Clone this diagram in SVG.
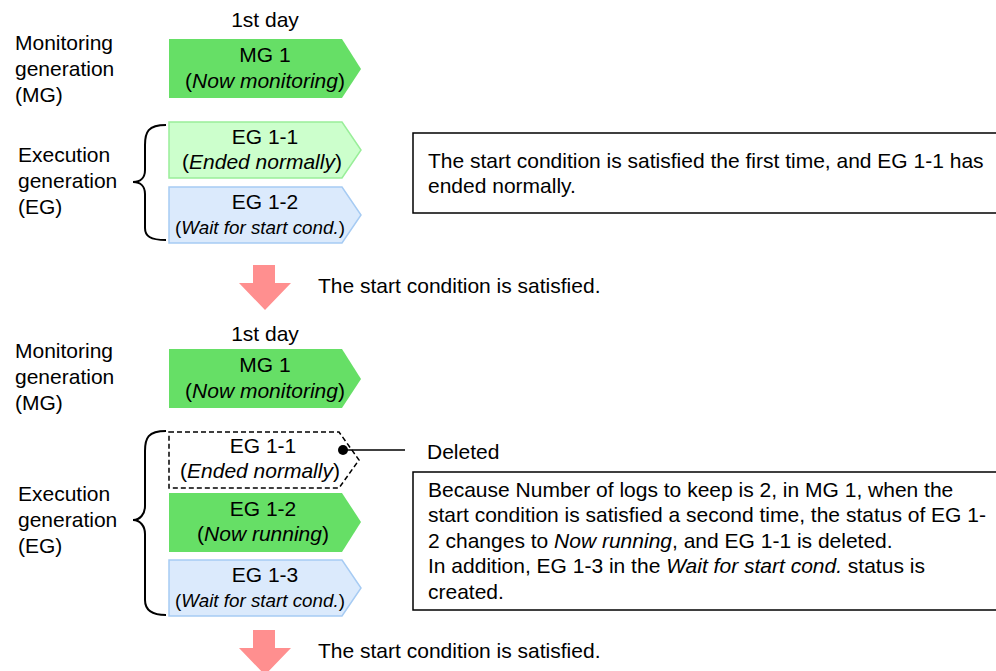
<svg xmlns="http://www.w3.org/2000/svg" width="996" height="671" viewBox="0 0 996 671">
<style>
text{font-family:"Liberation Sans",Arial,sans-serif;font-size:21px;fill:#000}
.c{text-anchor:middle}
.s{font-size:18.8px}
.i{font-style:italic}
.mg{fill:#66df66;stroke:none}
.ok{fill:#ccffcc;stroke:#99ee99;stroke-width:1.5}
.wait{fill:#dbeafc;stroke:#a6cbf3;stroke-width:1.5}
.del{fill:#fff;stroke:#000;stroke-width:1.5;stroke-dasharray:5,3}
.box{fill:#fff;stroke:#000;stroke-width:1.5}
.brace{fill:none;stroke:#000;stroke-width:2}
.arr{fill:#ff8f8f}
</style>
<g id="labels">
<text x="15" y="50">Monitoring</text>
<text x="15" y="76">generation</text>
<text x="15" y="102">(MG)</text>
<text x="18" y="162">Execution</text>
<text x="18" y="188">generation</text>
<text x="18" y="214">(EG)</text>
<text class="c" x="265" y="27">1st day</text>
<text x="15" y="358">Monitoring</text>
<text x="15" y="384">generation</text>
<text x="15" y="410">(MG)</text>
<text x="18" y="501">Execution</text>
<text x="18" y="527">generation</text>
<text x="18" y="553">(EG)</text>
<text class="c" x="265" y="341">1st day</text>
</g>
<g id="brace1"><path class="brace" d="M166,125 C148,125 145,132 145,145 V170 C145,178 140,182 133,182 C140,182 145,186 145,194 V228 C145,236 150,240 166,240"/></g>
<g id="brace2"><path class="brace" d="M166,431 C148,431 145,438 145,451 V506 C145,514 140,520 133,520 C140,520 145,526 145,534 V600 C145,608 150,615 166,615"/></g>
<g id="mg1a">
<path class="mg" d="M169,39 H342 L361,69 L342,98 H169 Z"/>
<text class="c" x="265" y="62">MG 1</text>
<text class="c" x="265" y="88">(<tspan class="i">Now monitoring</tspan>)</text>
</g>
<g id="eg11a">
<path class="ok" d="M169,122 H342 L361,150 L342,178 H169 Z"/>
<text class="c" x="265" y="144">EG 1-1</text>
<text class="c" x="262" y="169">(<tspan class="i">Ended normally</tspan>)</text>
</g>
<g id="eg12a">
<path class="wait" d="M169,187 H342 L361,215 L342,243 H169 Z"/>
<text class="c" x="265" y="209">EG 1-2</text>
<text class="c s" x="260" y="234">(<tspan class="i">Wait for start cond.</tspan>)</text>
</g>
<g id="note1">
<rect class="box" x="413" y="133" width="600" height="80"/>
<text x="428" y="168">The start condition is satisfied the first time, and EG 1-1 has</text>
<text x="428" y="193">ended normally.</text>
</g>
<g id="arrow1">
<path class="arr" d="M253,265 H275 V283 H291 L265,310 L239,283 H253 Z"/>
<text x="318" y="293">The start condition is satisfied.</text>
</g>
<g id="mg1b">
<path class="mg" d="M169,349 H342 L361,379 L342,408 H169 Z"/>
<text class="c" x="265" y="372">MG 1</text>
<text class="c" x="265" y="398">(<tspan class="i">Now monitoring</tspan>)</text>
</g>
<g id="eg11b">
<path class="del" d="M169,432 H339 L359,460 L339,488 H169 Z"/>
<text class="c" x="263" y="453">EG 1-1</text>
<text class="c" x="260" y="478">(<tspan class="i">Ended normally</tspan>)</text>
</g>
<g id="eg12b">
<path class="mg" d="M169,493 H342 L361,522 L342,552 H169 Z"/>
<text class="c" x="263" y="516">EG 1-2</text>
<text class="c" x="263" y="541">(<tspan class="i">Now running</tspan>)</text>
</g>
<g id="eg13b">
<path class="wait" d="M169,560 H342 L361,588 L342,616 H169 Z"/>
<text class="c" x="265" y="582">EG 1-3</text>
<text class="c s" x="260" y="607">(<tspan class="i">Wait for start cond.</tspan>)</text>
</g>
<g id="connectors">
<line x1="343" y1="450" x2="405" y2="450" stroke="#000" stroke-width="1.5"/>
<circle cx="343" cy="450" r="5" fill="#000"/>
</g>
<g id="deleted"><text x="427" y="459">Deleted</text></g>
<g id="note2">
<rect class="box" x="413" y="472" width="600" height="138"/>
<text x="428" y="497">Because Number of logs to keep is 2, in MG 1, when the</text>
<text x="428" y="522">start condition is satisfied a second time, the status of EG 1-</text>
<text x="428" y="548">2 changes to <tspan class="i">Now running</tspan>, and EG 1-1 is deleted.</text>
<text x="428" y="573">In addition, EG 1-3 in the <tspan class="i">Wait for start cond.</tspan> status is</text>
<text x="428" y="599">created.</text>
</g>
<g id="arrow2">
<path class="arr" d="M253,630 H275 V648 H291 L265,675 L239,648 H253 Z"/>
<text x="318" y="658">The start condition is satisfied.</text>
</g>
</svg>
